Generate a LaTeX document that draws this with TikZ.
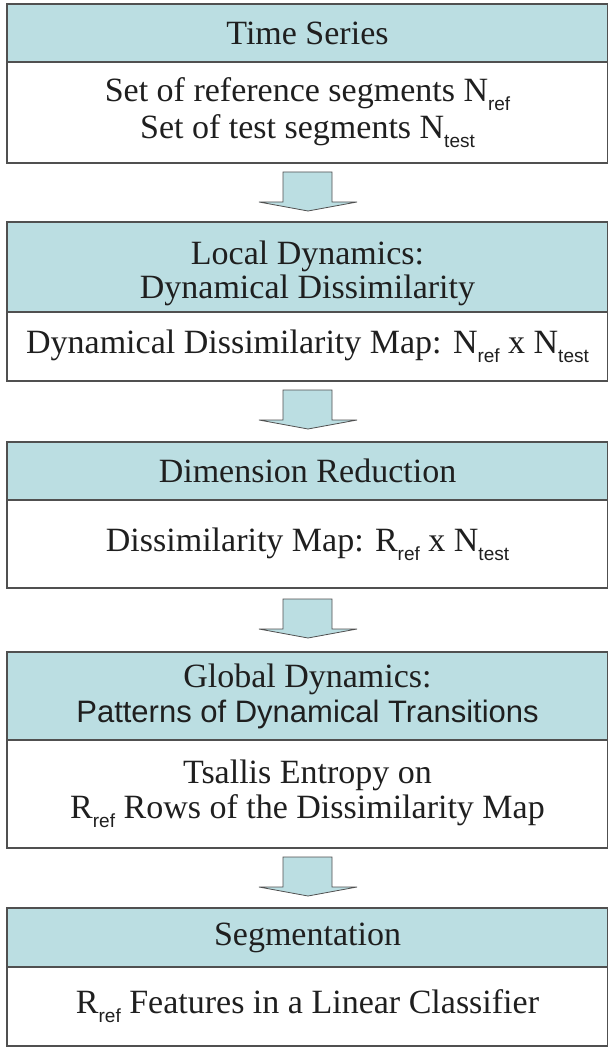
\documentclass[tikz,border=0pt]{standalone}
\usepackage{fontspec}
\setmainfont{Liberation Serif}
\newfontfamily\subfont{Liberation Sans}
\definecolor{hdr}{RGB}{187,222,226}
\definecolor{edge}{RGB}{80,80,80}
\newcommand{\lowsub}[1]{\raisebox{-0.27em}{\subfont\fontsize{19}{19}\selectfont #1}}
\tikzset{
  sect/.style={draw=edge, line width=1.3pt, rectangle, minimum width=601pt, inner sep=0pt,
    align=center, font=\fontsize{34}{36}\selectfont, text=black!88},
  hdrbox/.style={sect, fill=hdr},
  bodybox/.style={sect, fill=white},
  plaintext/.style={align=center, inner sep=0pt, text=black!88},
  blockarrow/.style={draw=edge, line width=0.8pt, fill=hdr, line join=miter}
}
\begin{document}
\begin{tikzpicture}[x=1pt,y=-1pt]
\useasboundingbox (0,0) rectangle (607,1048);
% box 1
\node[hdrbox, minimum height=58pt] (h1) at (307.5,33) {Time Series};
\node[bodybox, minimum height=101pt, font=\fontsize{34}{37}\selectfont] (b1) at (307.5,112.5) {Set of reference segments N\lowsub{ref}\\Set of test segments N\lowsub{test}};
% box 2
\node[hdrbox, minimum height=90pt] (h2) at (307.5,267) {};
\node[plaintext, font=\fontsize{34}{34}\selectfont] (h2t) at ([yshift=-6pt]h2.center) {Local Dynamics:\\Dynamical Dissimilarity};
\node[bodybox, minimum height=69pt] (b2) at (307.5,346.5) {Dynamical Dissimilarity Map: N\lowsub{ref} x N\lowsub{test}};
% box 3
\node[hdrbox, minimum height=58pt] (h3) at (307.5,471) {Dimension Reduction};
\node[bodybox, minimum height=88pt] (b3) at (307.5,544) {Dissimilarity Map: R\lowsub{ref} x N\lowsub{test}};
% box 4
\node[hdrbox, minimum height=88pt, font=\fontsize{34}{35}\selectfont] (h4) at (307.5,696) {Global Dynamics:\\{\subfont\fontsize{31}{35}\selectfont Patterns of Dynamical Transitions}};
\node[bodybox, minimum height=108pt, font=\fontsize{34}{35}\selectfont] (b4) at (307.5,794) {Tsallis Entropy on\\R\lowsub{ref} Rows of the Dissimilarity Map};
% box 5
\node[hdrbox, minimum height=59pt] (h5) at (307.5,937.5) {Segmentation};
\node[bodybox, minimum height=79pt] (b5) at (307.5,1006.5) {R\lowsub{ref} Features in a Linear Classifier};
% block arrows
\foreach \t in {172,390,599,857}{
  \draw[blockarrow] (283,\t) -- (332,\t) -- (332,\t+30) -- (357,\t+30) -- (308,\t+39)
     -- (259,\t+30) -- (283,\t+30) -- cycle;
}
\end{tikzpicture}
\end{document}
